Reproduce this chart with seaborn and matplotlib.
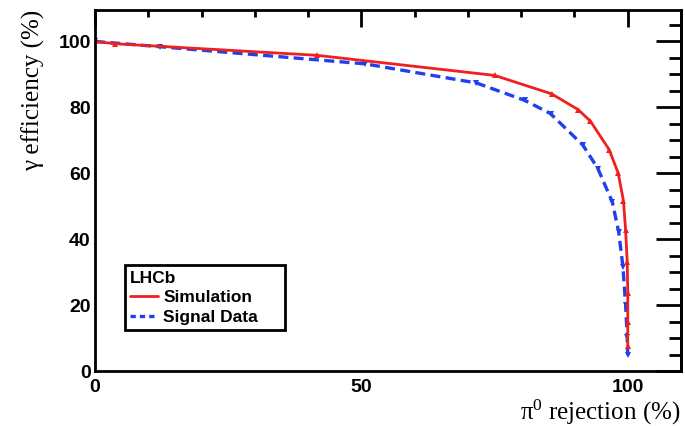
import matplotlib
matplotlib.use("Agg")
import matplotlib.pyplot as plt
import seaborn as sns
import pandas as pd
from matplotlib.ticker import MultipleLocator
from matplotlib.lines import Line2D

sim_x = [0, 3.8, 41.6, 75.0, 85.7, 90.7, 93.0, 96.5, 98.2, 99.2, 99.6, 99.9, 100.0, 100.0, 100.0]
sim_y = [100, 99.3, 95.8, 89.7, 84.1, 79.3, 75.8, 67.2, 60.1, 51.6, 42.7, 33.1, 23.7, 14.9, 7.6]
dat_x = [0, 12.2, 50.7, 71.6, 80.7, 85.5, 91.6, 94.4, 97.1, 98.3, 99.1, 99.6, 99.9, 100.0]
dat_y = [100, 98.4, 93.2, 87.4, 82.1, 78.1, 68.5, 61.4, 51.3, 42.2, 31.6, 20.0, 10.4, 4.8]

sns.set_style("white")
plt.rcParams["font.family"] = ["Liberation Sans", "DejaVu Sans"]
plt.rcParams["mathtext.fontset"] = "custom"
plt.rcParams["mathtext.rm"] = "Liberation Serif"
plt.rcParams["mathtext.it"] = "Liberation Serif:italic"

RED = "#ee2020"
BLUE = "#2040ee"
DASH = (0, (3.0, 1.6))

fig = plt.figure(figsize=(6.85, 4.26), dpi=100)
ax = fig.add_axes([0.1387, 0.129, 0.8555, 0.848])

df_sim = pd.DataFrame({"x": sim_x, "y": sim_y})
df_dat = pd.DataFrame({"x": dat_x, "y": dat_y})

sns.lineplot(data=df_dat, x="x", y="y", ax=ax, color=BLUE, lw=2.4,
             linestyle=DASH, marker="v", markersize=5, markeredgewidth=0,
             sort=False, estimator=None, legend=False)
sns.lineplot(data=df_sim, x="x", y="y", ax=ax, color=RED, lw=2.0,
             marker="^", markersize=5, markeredgewidth=0,
             sort=False, estimator=None, legend=False)

ax.set_xlim(0, 110)
ax.set_ylim(0, 109.6)

ax.xaxis.set_major_locator(MultipleLocator(50))
ax.xaxis.set_minor_locator(MultipleLocator(10))
ax.yaxis.set_major_locator(MultipleLocator(20))
ax.yaxis.set_minor_locator(MultipleLocator(5))
ax.tick_params(which="both", direction="in", top=True, right=False, width=2,
               color="black", labelcolor="black")
ax.tick_params(which="major", length=12)
ax.tick_params(which="minor", length=5)
ax.tick_params(axis="x", which="major", pad=6)
ax.tick_params(axis="y", which="major", pad=3)
for lab in ax.get_xticklabels() + ax.get_yticklabels():
    lab.set_fontweight("bold")
    lab.set_fontsize(14)

# right-side ticks (longer, as in the reference)
sec = ax.secondary_yaxis("right")
sec.yaxis.set_major_locator(MultipleLocator(20))
sec.yaxis.set_minor_locator(MultipleLocator(5))
sec.tick_params(which="both", direction="in", width=2, color="black", labelright=False)
sec.tick_params(which="major", length=18)
sec.tick_params(which="minor", length=9)
sec.spines["right"].set_linewidth(2)
sec.spines["right"].set_color("black")

for sp in ax.spines.values():
    sp.set_visible(True)
    sp.set_linewidth(2)
    sp.set_color("black")

ax.set_xlabel("$\\mathrm{π}^{0}$ rejection (%)", fontsize=18, family="Liberation Serif",
              loc="right", labelpad=1, color="black")
ax.set_ylabel("γ efficiency (%)", fontsize=18, family="Liberation Serif",
              loc="top", labelpad=10, color="black")

h_sim = Line2D([], [], color=RED, lw=2.0)
h_dat = Line2D([], [], color=BLUE, lw=2.4, linestyle=(0, (1.6, 1.2)))
leg = ax.legend([h_sim, h_dat], ["Simulation", "Signal Data"], title="LHCb",
                loc="lower left", bbox_to_anchor=(0.051, 0.114, 0.273, 0.185),
                mode="expand", borderaxespad=0,
                frameon=True, fancybox=False, edgecolor="black", framealpha=1,
                prop={"weight": "bold", "size": 12.5}, handlelength=1.6,
                handletextpad=0.3, borderpad=0.3, labelspacing=0.25,
                alignment="left",
                title_fontproperties={"weight": "bold", "size": 12.5})
leg.get_frame().set_linewidth(2)
for t in leg.get_texts():
    t.set_color("black")
leg.get_title().set_color("black")

fig.savefig("out.png", dpi=100)
